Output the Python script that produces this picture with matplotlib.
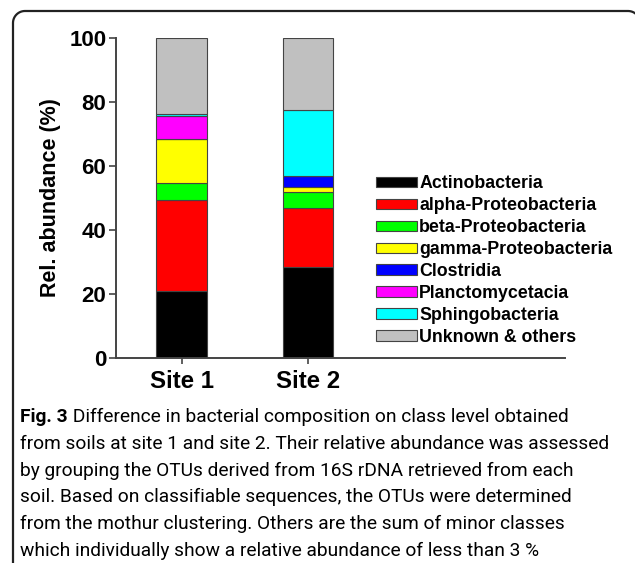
import numpy as np
import matplotlib
matplotlib.use("Agg")
import matplotlib.pyplot as plt
from matplotlib.lines import Line2D
from matplotlib.patches import Patch

# Data (relative abundance, %)
sites = ["Site 1", "Site 2"]
classes = ["Actinobacteria", "alpha-Proteobacteria", "beta-Proteobacteria",
           "gamma-Proteobacteria", "Clostridia", "Planctomycetacia",
           "Sphingobacteria", "Unknown & others"]
site1 = [21.0, 28.4, 5.3, 13.6, 0.0, 7.3, 0.6, 23.8]
site2 = [28.5, 18.3, 5.1, 1.6, 3.5, 0.0, 20.5, 22.5]
colors = ["#000000", "#ff0000", "#00ff00", "#ffff00", "#0000ff",
          "#ff00ff", "#00ffff", "#c0c0c0"]

caption_bold = "Fig. 3"
caption_lines = [
    " Difference in bacterial composition on class level obtained",
    "from soils at site 1 and site 2. Their relative abundance was assessed",
    "by grouping the OTUs derived from 16S rDNA retrieved from each",
    "soil. Based on classifiable sequences, the OTUs were determined",
    "from the mothur clustering. Others are the sum of minor classes",
    "which individually show a relative abundance of less than 3 %",
]

W, H = 635, 563
plt.rcParams['font.family'] = ['Liberation Sans', 'DejaVu Sans']
fig = plt.figure(figsize=(W / 100, H / 100), dpi=100)
arial = ['Liberation Sans', 'DejaVu Sans']

# rounded frame: left edge, top edge, and two corners (pixel coords)
r = 12
left, top, right = 13, 11, 640
a1 = np.linspace(np.pi, np.pi / 2, 20)
a2 = np.linspace(np.pi / 2, 0, 20)
fx = np.concatenate([[left], left + r + r * np.cos(a1),
                     right - r + r * np.cos(a2), [right]])
fy = np.concatenate([[H + 5], top + r - r * np.sin(a1),
                     top + r - r * np.sin(a2), [H + 5]])
fig.add_artist(Line2D(fx / W, 1 - fy / H, transform=fig.transFigure,
                      color="#222222", linewidth=1.6))

ax = fig.add_axes([116 / W, 1 - 358 / H, (565 - 116) / W, 320 / H])

data = np.array([site1, site2]).T
x = np.arange(len(sites))
bottom = np.zeros(len(sites))
for vals, col in zip(data, colors):
    ax.bar(x, vals, width=0.40, bottom=bottom, color=col,
           edgecolor="#444444", linewidth=0.8)
    bottom += vals

ax.set_xlim(-0.518, 3.03)
ax.set_ylim(0, 100)
ax.set_yticks([0, 20, 40, 60, 80, 100])
ax.set_xticks(x)
ax.set_xticklabels(sites)
for s in ["top", "right"]:
    ax.spines[s].set_visible(False)
for s in ["left", "bottom"]:
    ax.spines[s].set_color("#444444")
    ax.spines[s].set_linewidth(1.4)
ax.tick_params(axis="y", direction="out", length=5, width=1.2,
               color="#444444", pad=2)
ax.tick_params(axis="x", direction="out", length=4, width=1.2,
               color="#444444", pad=5)
for lab in ax.get_yticklabels():
    lab.set_fontweight("bold")
    lab.set_fontsize(16)
    lab.set_family(arial)
for lab in ax.get_xticklabels():
    lab.set_fontweight("bold")
    lab.set_fontsize(17.3)
    lab.set_family(arial)
ax.set_ylabel("Rel. abundance (%)", fontsize=15.5, fontweight="bold",
              family=arial, labelpad=6)

handles = [Patch(facecolor=c, edgecolor="#444444", linewidth=0.8)
           for c in colors]
leg = ax.legend(handles, classes, loc="upper left",
                bbox_to_anchor=(0.58, 0.572), frameon=False,
                prop={"weight": "bold", "size": 12.8, "family": arial},
                handlelength=2.3, handleheight=0.5, handletextpad=0.1,
                labelspacing=0.28, borderaxespad=0, borderpad=0)

# caption, sized so the longest line spans about 592 px
cap_font = ['Roboto', 'DejaVu Sans']
y0 = 1 - 417 / H
dy = 26.8 / H
probe = fig.text(0, 0, caption_lines[1], fontsize=15, family=cap_font)
fig.canvas.draw()
fs = 15 * 592 / probe.get_window_extent().width
probe.remove()

t = fig.text(20 / W, y0, caption_bold, fontsize=fs, fontweight="bold",
             family=cap_font, va="center")
fig.canvas.draw()
bb = t.get_window_extent()
fig.text(bb.x1 / W, y0, caption_lines[0], fontsize=fs, family=cap_font,
         va="center")
for i, line in enumerate(caption_lines[1:], start=1):
    fig.text(20 / W, y0 - i * dy, line, fontsize=fs, family=cap_font,
             va="center")

fig.savefig("out.png", dpi=100)
